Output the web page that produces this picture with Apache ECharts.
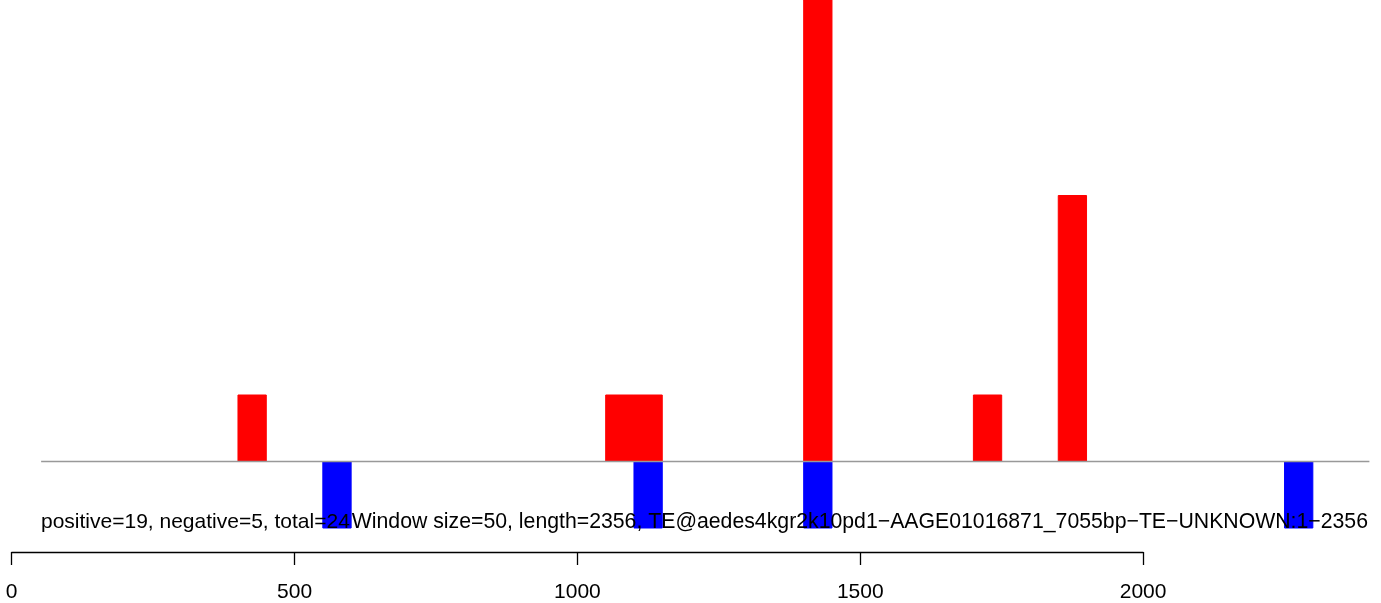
<!DOCTYPE html>
<html>
<head>
<meta charset="utf-8">
<script src="https://cdn.jsdelivr.net/npm/echarts@6/dist/echarts.min.js"></script>
<style>
  html, body { margin: 0; padding: 0; background: #ffffff; }
  #chart { width: 1381px; height: 603px; }
</style>
</head>
<body>
<div id="chart"></div>
<script>
// ---- data ----
const windowSize = 50;
const positiveStarts = [400, 1050, 1100, 1400, 1700, 1850];
const positiveCounts = [1, 1, 1, 11, 1, 4];
const negativeStarts = [550, 1100, 1400, 2250];
const negativeCounts = [1, 1, 2, 1];
const axisTicks = [0, 500, 1000, 1500, 2000];
const baselineSpan = [52, 2400];
const summaryText = 'positive=19, negative=5, total=24';
const titleText = 'Window size=50, length=2356, TE@aedes4kgr2k10pd1\u2212AAGE01016871_7055bp\u2212TE\u2212UNKNOWN:1\u22122356';

const FONT = '"Liberation Sans", Arial, Helvetica, sans-serif';

const posData = positiveStarts.map((s, i) => [s, positiveCounts[i]]);
const negData = negativeStarts.map((s, i) => [s, -negativeCounts[i]]);

function barRenderer(color) {
  return function (params, api) {
    const x = api.value(0), v = api.value(1);
    const p0 = api.coord([x, v]);
    const p1 = api.coord([x + windowSize, 0]);
    const rect = {
      x: p0[0],
      y: Math.min(p0[1], p1[1]),
      width: p1[0] - p0[0],
      height: Math.abs(p1[1] - p0[1])
    };
    const cs = params.coordSys;
    const clipped = echarts.graphic.clipRectByRect(rect, {
      x: cs.x, y: cs.y, width: cs.width, height: cs.height
    });
    if (!clipped) return null;
    return {
      type: 'rect',
      shape: clipped,
      style: { fill: color, stroke: color, lineWidth: 1 }
    };
  };
}

const chart = echarts.init(document.getElementById('chart'), null, { renderer: 'canvas' });
chart.setOption({
  animation: false,
  backgroundColor: '#ffffff',
  grid: [
    { left: 11.7, right: 11.6, top: 0, bottom: 75, containLabel: false },
    { left: 11.7, width: 1131.4, top: 551, height: 1, containLabel: false }
  ],
  xAxis: [
    {
      gridIndex: 0, type: 'value', min: 0, max: 2400,
      show: false
    },
    {
      gridIndex: 1, type: 'value', min: axisTicks[0], max: axisTicks[axisTicks.length - 1],
      interval: 500, position: 'bottom',
      axisLine: { show: true, onZero: false, lineStyle: { color: '#000', width: 1.3 } },
      axisTick: { show: true, length: 13, lineStyle: { color: '#000', width: 1.3 } },
      axisLabel: {
        show: true, color: '#000', fontFamily: FONT, fontSize: 21, margin: 30,
        formatter: function (v) { return String(v); }
      },
      splitLine: { show: false }
    }
  ],
  yAxis: [
    { gridIndex: 0, type: 'value', min: -1, max: 6.94, show: false },
    { gridIndex: 1, type: 'value', min: 0, max: 1, show: false }
  ],
  series: [
    {
      type: 'custom', xAxisIndex: 0, yAxisIndex: 0,
      renderItem: barRenderer('#ff0000'), data: posData, z: 2, silent: true
    },
    {
      type: 'custom', xAxisIndex: 0, yAxisIndex: 0,
      renderItem: barRenderer('#0000ff'), data: negData, z: 2, silent: true
    },
    {
      type: 'line', xAxisIndex: 0, yAxisIndex: 0,
      data: [[baselineSpan[0], 0], [baselineSpan[1], 0]],
      symbol: 'none', silent: true, z: 3,
      lineStyle: { color: '#999999', width: 1.4 }
    }
  ],
  graphic: [
    {
      type: 'text', left: 41, top: 512, z: 10,
      style: { text: summaryText, font: '21px ' + FONT, fill: '#000' }
    },
    {
      type: 'text', right: 13, top: 512, z: 10,
      style: { text: titleText, font: '21.25px ' + FONT, fill: '#000' }
    }
  ]
});
</script>
</body>
</html>
